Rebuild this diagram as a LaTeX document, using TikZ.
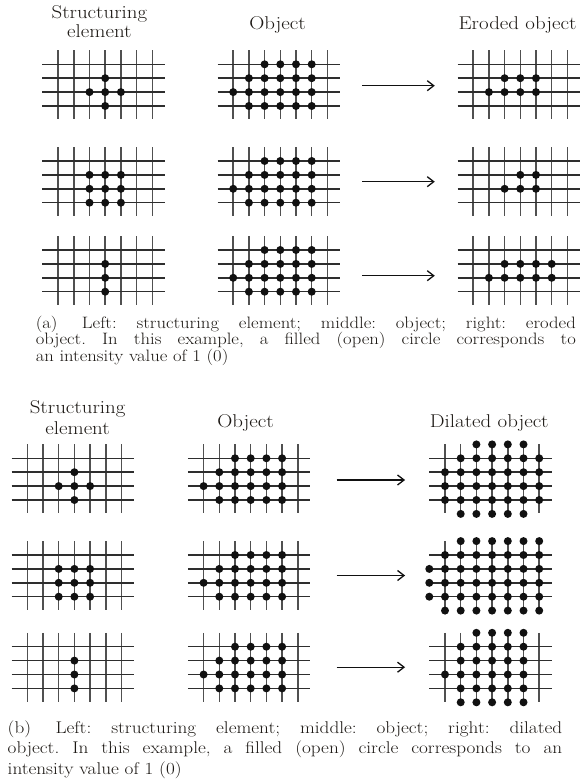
\documentclass[tikz,border=0pt]{standalone}
\usepackage{graphicx}
\usetikzlibrary{arrows.meta,positioning,calc}
\definecolor{GridInk}{HTML}{2E2E2E}
\definecolor{GridSoft}{HTML}{505050}
\definecolor{DotInk}{HTML}{111111}
\definecolor{TextInk}{HTML}{1C1814}

% the scan is a little wider than tall
\newcommand{\widetext}[1]{\scalebox{1.13}[1]{#1}}

% filled crossings, col/row (row 0 = top line)
\newcommand{\crosspix}{3/1,2/2,3/2,4/2,3/3}
\newcommand{\squarepix}{2/1,3/1,4/1,2/2,3/2,4/2,2/3,3/3,4/3}
\newcommand{\linepix}{3/1,3/2,3/3}
\newcommand{\objpix}{2/0,3/0,4/0,5/0,1/1,2/1,3/1,4/1,5/1,0/2,1/2,2/2,3/2,4/2,5/2,1/3,2/3,3/3,4/3,5/3}
\newcommand{\eropixA}{2/1,3/1,4/1,1/2,2/2,3/2,4/2}
\newcommand{\eropixB}{3/1,4/1,2/2,3/2,4/2}
\newcommand{\eropixC}{2/1,3/1,4/1,5/1,1/2,2/2,3/2,4/2,5/2}
\newcommand{\dilpixA}{2/-1,3/-1,4/-1,5/-1,1/0,2/0,3/0,4/0,5/0,6/0,%
  0/1,1/1,2/1,3/1,4/1,5/1,6/1,0/2,1/2,2/2,3/2,4/2,5/2,6/2,%
  0/3,1/3,2/3,3/3,4/3,5/3,6/3,1/4,2/4,3/4,4/4,5/4}
\newcommand{\dilpixB}{1/-1,2/-1,3/-1,4/-1,5/-1,6/-1,0/0,1/0,2/0,3/0,4/0,5/0,6/0,%
  -1/1,0/1,1/1,2/1,3/1,4/1,5/1,6/1,-1/2,0/2,1/2,2/2,3/2,4/2,5/2,6/2,%
  -1/3,0/3,1/3,2/3,3/3,4/3,5/3,6/3,0/4,1/4,2/4,3/4,4/4,5/4,6/4}
\newcommand{\dilpixC}{2/-1,3/-1,4/-1,5/-1,1/0,2/0,3/0,4/0,5/0,%
  1/1,2/1,3/1,4/1,5/1,0/2,1/2,2/2,3/2,4/2,5/2,%
  1/3,2/3,3/3,4/3,5/3,1/4,2/4,3/4,4/4,5/4}

% name, x, y of top-left crossing, list of filled crossings
\newcommand{\dotgrid}[4]{%
  \begin{scope}[shift={(#2,#3)},x=15.7pt,y=-13.9pt]
    \foreach \gx in {0,...,6}
      \draw[vline] (\gx,-1) -- (\gx,3.95);
    \foreach \gy in {0,...,3}
      \draw[hline] (-1,\gy) -- (6.8,\gy);
    \foreach \gx/\gy in #4
      \fill[pixel] (\gx,\gy) circle[radius=4pt];
    \node[gridbox] (#1) at (2.9,1.475) {};
  \end{scope}}

\begin{document}
\begin{tikzpicture}[x=1pt,y=-1pt,
  hline/.style={draw=GridInk,line width=1.45pt},
  vline/.style={draw=GridSoft,line width=1.45pt},
  pixel/.style={fill=DotInk},
  gridbox/.style={minimum width=122.5pt,minimum height=68.8pt,inner sep=0pt},
  title/.style={font=\fontsize{18.5}{18.3}\selectfont,text=TextInk,inner sep=0pt},
  titleb/.style={font=\fontsize{18.5}{21}\selectfont,text=TextInk,inner sep=0pt},
  flow/.style={-{Straight Barb[length=6.5pt,width=10pt]},line width=1.3pt,draw=DotInk},
  capa/.style={font=\fontsize{16.5}{16.8}\selectfont,text=TextInk,inner sep=0pt,anchor=base west},
  capb/.style={font=\fontsize{17}{20.5}\selectfont,text=TextInk,inner sep=0pt,anchor=base west},
]
\useasboundingbox (0,0) rectangle (582,783);

% (a) erosion
\node[title] (ta1) at (99.4,24.2) {\widetext{\begin{tabular}{@{}c@{}}Structuring\\element\end{tabular}}};
\node[title] (ta2) at (277.5,25) {\widetext{Object}};
\node[title] (ta3) at (517.5,25) {\widetext{Eroded object}};

\dotgrid{a1s}{58.1}{64.3}{\crosspix}
\dotgrid{a1o}{233.2}{64.3}{\objpix}
\dotgrid{a1r}{473.2}{64.3}{\eropixA}
\draw[flow] ($(a1o.east)+(22,0.9)$) -- ($(a1r.west)+(-22.5,0.9)$);

\dotgrid{a2s}{58.1}{161}{\squarepix}
\dotgrid{a2o}{233.2}{161}{\objpix}
\dotgrid{a2r}{473.2}{161}{\eropixB}
\draw[flow] ($(a2o.east)+(22,0.2)$) -- ($(a2r.west)+(-22.5,0.2)$);

\dotgrid{a3s}{58.1}{250}{\linepix}
\dotgrid{a3o}{233.2}{250}{\objpix}
\dotgrid{a3r}{473.2}{250}{\eropixC}
\draw[flow] ($(a3o.east)+(22,5.2)$) -- ($(a3r.west)+(-22.5,5.2)$);

\node[capa] (capta) at (35.6,328) {\widetext{\parbox[t]{477.9pt}{\frenchspacing
  \makebox[\linewidth][s]{(a)\hspace{4pt} Left: structuring element; middle: object; right: eroded}\\
  \makebox[\linewidth][s]{object. In this example, a filled (open) circle corresponds to}\\
  an intensity value of 1 (0)}}};

% (b) dilation
\node[titleb] (tb1) at (77.6,420) {\widetext{\begin{tabular}{@{}c@{}}Structuring\\element\end{tabular}}};
\node[titleb] (tb2) at (245.6,423) {\widetext{Object}};
\node[titleb] (tb3) at (489.3,423) {\widetext{Dilated object}};

\dotgrid{b1s}{27.3}{458.3}{\crosspix}
\dotgrid{b1o}{203.6}{458.3}{\objpix}
\dotgrid{b1r}{445}{458.3}{\dilpixA}
\draw[flow] ($(b1o.east)+(26,1.2)$) -- ($(b1r.west)+(-24,1.2)$);

\dotgrid{b2s}{27.3}{555}{\squarepix}
\dotgrid{b2o}{203.6}{555}{\objpix}
\dotgrid{b2r}{445}{555}{\dilpixB}
\draw[flow] ($(b2o.east)+(26,0)$) -- ($(b2r.west)+(-24,0)$);

\dotgrid{b3s}{27.3}{646.7}{\linepix}
\dotgrid{b3o}{203.6}{646.7}{\objpix}
\dotgrid{b3r}{445}{646.7}{\dilpixC}
\draw[flow] ($(b3o.east)+(26,0)$) -- ($(b3r.west)+(-24,0)$);

\node[capb] (captb) at (7.5,733) {\widetext{\parbox[t]{490.7pt}{\frenchspacing
  \makebox[\linewidth][s]{(b)\hspace{4pt} Left: structuring element; middle: object; right: dilated}\\
  \makebox[\linewidth][s]{object. In this example, a filled (open) circle corresponds to an}\\
  intensity value of 1 (0)}}};
\end{tikzpicture}
\end{document}
